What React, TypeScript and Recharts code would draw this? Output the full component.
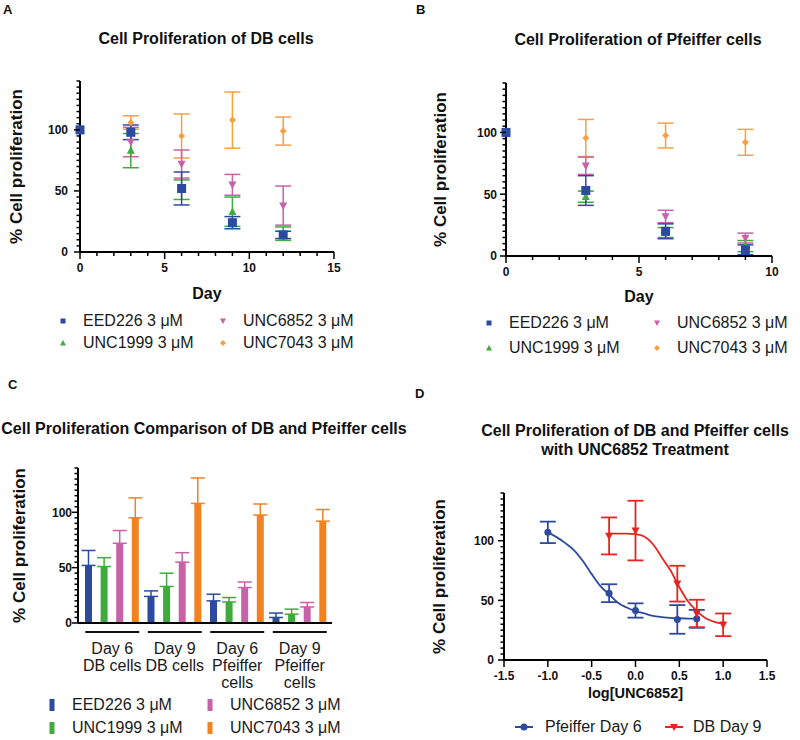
import React from 'react';
import {
  ScatterChart,
  Scatter,
  BarChart,
  Bar,
  ComposedChart,
  Line,
  XAxis,
  YAxis,
  ErrorBar,
  Label,
} from 'recharts';

const FONT = '"Liberation Sans", Arial, Helvetica, sans-serif';

const BLUE = '#2d4b9e';
const GREEN = '#3fab3c';
const PINK = '#c862a8';
const ORANGE = '#f7a043';
const ORANGE_BAR = '#f28120';
const RED = '#e52521';

const drugNames = ['EED226 3 μM', 'UNC1999 3 μM', 'UNC6852 3 μM', 'UNC7043 3 μM'];

// A: DB cells
const dbDays = [0, 3, 6, 9, 12];
const dbEED226 = [100, 98, 52, 24, 14];
const dbEED226Err = [0, 6, 13.5, 5, 3];
const dbUNC1999 = [100, 83, 51, 33, 15];
const dbUNC1999Err = [0, 14, 8, 12, 5.5];
const dbUNC6852 = [100, 90, 72, 55, 38];
const dbUNC6852Err = [0, 12, 11.5, 8.5, 16];
const dbUNC7043 = [100, 106, 95, 108, 99];
const dbUNC7043Err = [0, 5.5, 18, 23, 11.5];

// B: Pfeiffer cells
const pfDays = [0, 3, 6, 9];
const pfEED226 = [100, 53, 20, 5];
const pfEED226Err = [0, 12, 6, 4];
const pfUNC1999 = [100, 48, 19, 8];
const pfUNC1999Err = [0, 4.5, 4, 4.5];
const pfUNC6852 = [100, 73, 32, 14.5];
const pfUNC6852Err = [0, 7, 5, 4];
const pfUNC7043 = [100, 95.5, 97.5, 92];
const pfUNC7043Err = [0, 15, 10, 10.5];

// C: groups (day 6 / day 9 of each line)
const groupLabels = [
  ['Day 6', 'DB cells'],
  ['Day 9', 'DB cells'],
  ['Day 6', 'Pfeiffer', 'cells'],
  ['Day 9', 'Pfeiffer', 'cells'],
];

// D: dose response, log[UNC6852]
const pfConc = [-1, -0.301, 0, 0.477, 0.699];
const pfDay6 = [107, 56, 41.5, 34, 34.5];
const pfDay6Err = [9, 7.5, 6, 12, 7.5];
const dbConc = [-0.301, 0, 0.477, 0.699, 1];
const dbDay9 = [104, 108.5, 64, 39, 29.5];
const dbDay9Err = [15.5, 25, 15, 11.5, 9.5];
// fitted curves
const pfFitX = [-1, -0.9, -0.8, -0.7, -0.6, -0.5, -0.4, -0.3, -0.2, -0.1, 0, 0.1, 0.2, 0.3, 0.4, 0.5, 0.6, 0.7];
const pfFitY = [107, 103, 98, 92, 83, 72, 62, 55, 48, 44, 41, 39, 37, 36, 35.3, 35, 34.7, 34.5];
const dbFitX = [-0.3, -0.2, -0.1, 0, 0.1, 0.2, 0.3, 0.4, 0.5, 0.6, 0.7, 0.8, 0.9, 1];
const dbFitY = [106, 106, 106, 105.5, 103.5, 97, 86, 75, 61, 49, 41, 35, 32, 30.5];

// tick values
const yTicks = [0, 5, 10, 15, 20, 25, 30, 35, 40, 45, 50, 55, 60, 65, 70, 75, 80, 85, 90, 95, 100, 105, 110, 115, 120, 125, 130, 135, 140];
const dbDayTicks = [0, 1, 2, 3, 4, 5, 6, 7, 8, 9, 10, 11, 12, 13, 14, 15];
const pfDayTicks = [0, 1, 2, 3, 4, 5, 6, 7, 8, 9, 10];
const logTicks = [-1.5, -1, -0.5, 0, 0.5, 1, 1.5];

const toPoints = (days: number[], vals: number[], errs: number[]) =>
  days.map((d, i) => ({ day: d, value: vals[i], err: errs[i] }));

const toXY = (xs: number[], ys: number[], errs?: number[]) =>
  xs.map((x, i) => ({ x, y: ys[i], err: errs ? errs[i] : 0 }));

const cData = [
  [2, dbEED226, dbEED226Err, dbUNC1999, dbUNC1999Err, dbUNC6852, dbUNC6852Err, dbUNC7043, dbUNC7043Err],
  [3, dbEED226, dbEED226Err, dbUNC1999, dbUNC1999Err, dbUNC6852, dbUNC6852Err, dbUNC7043, dbUNC7043Err],
  [2, pfEED226, pfEED226Err, pfUNC1999, pfUNC1999Err, pfUNC6852, pfUNC6852Err, pfUNC7043, pfUNC7043Err],
  [3, pfEED226, pfEED226Err, pfUNC1999, pfUNC1999Err, pfUNC6852, pfUNC6852Err, pfUNC7043, pfUNC7043Err],
].map((row: any, g) => {
  const i = row[0];
  return {
    group: String(g),
    eed: row[1][i], eedErr: [0, row[2][i]],
    u1999: row[3][i], u1999Err: [0, row[4][i]],
    u6852: row[5][i], u6852Err: [0, row[6][i]],
    u7043: row[7][i], u7043Err: [0, row[8][i]],
  };
});

function marker(kind: string, color: string, s: number) {
  return (props: any) => {
    const { cx, cy } = props;
    if (cx == null || cy == null) return <g />;
    const h = s / 2;
    if (kind === 'square') return <rect x={cx - h} y={cy - h} width={s} height={s} fill={color} />;
    if (kind === 'tri')
      return <polygon points={`${cx},${cy - h * 1.1} ${cx - h},${cy + h * 0.8} ${cx + h},${cy + h * 0.8}`} fill={color} />;
    if (kind === 'invtri')
      return <polygon points={`${cx},${cy + h * 1.1} ${cx - h},${cy - h * 0.8} ${cx + h},${cy - h * 0.8}`} fill={color} />;
    if (kind === 'diamond')
      return <polygon points={`${cx},${cy - h} ${cx + h},${cy} ${cx},${cy + h} ${cx - h},${cy}`} fill={color} />;
    return <circle cx={cx} cy={cy} r={h} fill={color} />;
  };
}

function yTick(gap: number) {
  return (props: any) => {
    const { x, y, payload } = props;
    const major = payload.value % 50 === 0;
    return (
      <g>
        <line x1={x - (major ? 6 : 3.5)} x2={x} y1={y} y2={y} stroke="#000" strokeWidth={1.5} />
        {major && (
          <text x={x - gap} y={y} dy="0.36em" textAnchor="end" fontSize={12} fontWeight="bold" fontFamily={FONT} fill="#111">
            {payload.value}
          </text>
        )}
      </g>
    );
  };
}

function xTick(majorEvery: number, fmt: (v: number) => string) {
  return (props: any) => {
    const { x, y, payload } = props;
    const v = payload.value;
    const major = Math.abs(v / majorEvery - Math.round(v / majorEvery)) < 1e-6;
    return (
      <g>
        <line x1={x} x2={x} y1={y} y2={y + (major ? 7 : 4)} stroke="#000" strokeWidth={1.5} />
        {major && (
          <text x={x} y={y + 11} dy="0.71em" textAnchor="middle" fontSize={12} fontWeight="bold" fontFamily={FONT} fill="#111">
            {fmt(v)}
          </text>
        )}
      </g>
    );
  };
}

const groupTick = (props: any) => {
  const { x, y, payload } = props;
  const lines = groupLabels[Number(payload.value)];
  return (
    <g>
      <line x1={x - 27} x2={x + 27} y1={y + 9} y2={y + 9} stroke="#111" strokeWidth={2} />
      {lines.map((t, i) => (
        <text key={i} x={x} y={y + 31 + i * 17} textAnchor="middle" fontSize={16} fontFamily={FONT} fill="#1a1a1a">
          {t}
        </text>
      ))}
    </g>
  );
};

const axisLine = { stroke: '#000', strokeWidth: 2 };
const yLabelStyle = { textAnchor: 'middle', fontWeight: 'bold', fontSize: 17, fontFamily: FONT, fill: '#111' } as any;
const xLabelStyle = { textAnchor: 'middle', fontWeight: 'bold', fontSize: 16, fontFamily: FONT, fill: '#111' } as any;

const abs = (left: number, top: number): React.CSSProperties => ({ position: 'absolute', left, top });

function Title({ cx, cy, text }: { cx: number; cy: number; text: string }) {
  return (
    <div
      style={{
        position: 'absolute', left: cx - 250, top: cy - 10, width: 500, height: 20, lineHeight: '20px',
        textAlign: 'center', fontFamily: FONT, fontWeight: 'bold', fontSize: 16, color: '#111', whiteSpace: 'nowrap',
      }}
    >
      {text}
    </div>
  );
}

function Letter({ x, y, text }: { x: number; y: number; text: string }) {
  return (
    <div style={{ position: 'absolute', left: x, top: y, fontFamily: FONT, fontWeight: 'bold', fontSize: 13, lineHeight: '13px', color: '#111' }}>
      {text}
    </div>
  );
}

function LegendEntry({ mx, tx, cy, icon, label }: { mx: number; tx: number; cy: number; icon: React.ReactNode; label: string }) {
  return (
    <>
      <svg style={{ position: 'absolute', left: mx - 12, top: cy - 10 }} width={24} height={20}>
        {icon}
      </svg>
      <div
        style={{
          position: 'absolute', left: tx, top: cy - 10, height: 20, lineHeight: '20px',
          fontFamily: FONT, fontSize: 16, color: '#1a1a1a', whiteSpace: 'nowrap',
        }}
      >
        {label}
      </div>
    </>
  );
}

const icons = [
  <rect x={9.5} y={7.5} width={5} height={5} fill={BLUE} />,
  <polygon points="12,7 9,12.5 15,12.5" fill={GREEN} />,
  <polygon points="12,13 9,7.5 15,7.5" fill={PINK} />,
  <polygon points="12,7 15,10 12,13 9,10" fill={ORANGE} />,
];
const barColors = [BLUE, GREEN, PINK, ORANGE_BAR];

function ScatterLegend({ c1m, c1t, c2m, c2t, y1, y2 }: any) {
  return (
    <>
      <LegendEntry mx={c1m} tx={c1t} cy={y1} icon={icons[0]} label={drugNames[0]} />
      <LegendEntry mx={c2m} tx={c2t} cy={y1} icon={icons[2]} label={drugNames[2]} />
      <LegendEntry mx={c1m} tx={c1t} cy={y2} icon={icons[1]} label={drugNames[1]} />
      <LegendEntry mx={c2m} tx={c2t} cy={y2} icon={icons[3]} label={drugNames[3]} />
    </>
  );
}

export default function App() {
  const dbSeries = [
    { pts: toPoints(dbDays, dbUNC7043, dbUNC7043Err), color: ORANGE, kind: 'diamond', size: 7 },
    { pts: toPoints(dbDays, dbUNC6852, dbUNC6852Err), color: PINK, kind: 'invtri', size: 8 },
    { pts: toPoints(dbDays, dbUNC1999, dbUNC1999Err), color: GREEN, kind: 'tri', size: 8 },
    { pts: toPoints(dbDays, dbEED226, dbEED226Err), color: BLUE, kind: 'square', size: 9 },
  ];
  const pfSeries = [
    { pts: toPoints(pfDays, pfUNC7043, pfUNC7043Err), color: ORANGE, kind: 'diamond', size: 7 },
    { pts: toPoints(pfDays, pfUNC6852, pfUNC6852Err), color: PINK, kind: 'invtri', size: 8 },
    { pts: toPoints(pfDays, pfUNC1999, pfUNC1999Err), color: GREEN, kind: 'tri', size: 8 },
    { pts: toPoints(pfDays, pfEED226, pfEED226Err), color: BLUE, kind: 'square', size: 9 },
  ];

  return (
    <div style={{ position: 'absolute', left: 0, top: 0, width: 800, height: 740, background: '#fff', overflow: 'hidden' }}>
      {/* Panel A */}
      <Letter x={3} y={3} text="A" />
      <Title cx={206} cy={39} text="Cell Proliferation of DB cells" />
      <div style={abs(0, 0)}>
        <ScatterChart width={400} height={310} margin={{ top: 81, right: 66, left: 10, bottom: 8 }}>
          <XAxis type="number" dataKey="day" domain={[0, 15]} ticks={dbDayTicks} interval={0} height={50}
            tick={xTick(5, (v) => String(v))} tickLine={false} tickSize={0} tickMargin={0} axisLine={axisLine}>
            <Label value="Day" position="insideBottom" offset={3} style={xLabelStyle} />
          </XAxis>
          <YAxis type="number" domain={[0, 140]} ticks={yTicks} interval={0} width={70}
            tick={yTick(12)} tickLine={false} tickSize={0} tickMargin={0} axisLine={axisLine}>
            <Label value="% Cell proliferation" angle={-90} position="insideLeft" offset={6} style={yLabelStyle} />
          </YAxis>
          {dbSeries.map((s, i) => (
            <Scatter key={i} data={s.pts} dataKey="value" fill={s.color} shape={marker(s.kind, s.color, s.size)} isAnimationActive={false}>
              <ErrorBar dataKey="err" direction="y" width={8} stroke={s.color} strokeWidth={1.5} />
            </Scatter>
          ))}
        </ScatterChart>
      </div>
      <ScatterLegend c1m={63} c1t={83} c2m={223} c2t={243} y1={321} y2={343} />

      {/* Panel B */}
      <Letter x={416} y={3} text="B" />
      <Title cx={638} cy={40} text="Cell Proliferation of Pfeiffer cells" />
      <div style={abs(400, 0)}>
        <ScatterChart width={400} height={310} margin={{ top: 83, right: 28, left: 36, bottom: 4 }}>
          <XAxis type="number" dataKey="day" domain={[0, 10]} ticks={pfDayTicks} interval={0} height={50}
            tick={xTick(5, (v) => String(v))} tickLine={false} tickSize={0} tickMargin={0} axisLine={axisLine}>
            <Label value="Day" position="insideBottom" offset={4} style={xLabelStyle} />
          </XAxis>
          <YAxis type="number" domain={[0, 140]} ticks={yTicks} interval={0} width={70}
            tick={yTick(9)} tickLine={false} tickSize={0} tickMargin={0} axisLine={axisLine}>
            <Label value="% Cell proliferation" angle={-90} position="insideLeft" offset={4} style={yLabelStyle} />
          </YAxis>
          {pfSeries.map((s, i) => (
            <Scatter key={i} data={s.pts} dataKey="value" fill={s.color} shape={marker(s.kind, s.color, s.size)} isAnimationActive={false}>
              <ErrorBar dataKey="err" direction="y" width={8} stroke={s.color} strokeWidth={1.5} />
            </Scatter>
          ))}
        </ScatterChart>
      </div>
      <ScatterLegend c1m={489} c1t={509} c2m={657} c2t={677} y1={323} y2={348} />

      {/* Panel C */}
      <Letter x={8} y={378} text="C" />
      <Title cx={204} cy={429} text="Cell Proliferation Comparison of DB and Pfeiffer cells" />
      <div style={abs(0, 370)}>
        <BarChart width={400} height={330} data={cData} margin={{ top: 98, right: 68, left: 8, bottom: 7 }} barSize={7} barGap={8.6}>
          <XAxis dataKey="group" height={70} interval={0} tick={groupTick} tickLine={false} tickSize={0} tickMargin={0}
            axisLine={axisLine} padding={{ left: 3, right: 1 }} />
          <YAxis type="number" domain={[0, 140]} ticks={yTicks} interval={0} width={70}
            tick={yTick(6)} tickLine={false} tickSize={0} tickMargin={0} axisLine={axisLine}>
            <Label value="% Cell proliferation" angle={-90} position="insideLeft" offset={11} style={yLabelStyle} />
          </YAxis>
          <Bar dataKey="eed" fill={BLUE} isAnimationActive={false}>
            <ErrorBar dataKey="eedErr" direction="y" width={7} stroke={BLUE} strokeWidth={1.5} />
          </Bar>
          <Bar dataKey="u1999" fill={GREEN} isAnimationActive={false}>
            <ErrorBar dataKey="u1999Err" direction="y" width={7} stroke={GREEN} strokeWidth={1.5} />
          </Bar>
          <Bar dataKey="u6852" fill={PINK} isAnimationActive={false}>
            <ErrorBar dataKey="u6852Err" direction="y" width={7} stroke={PINK} strokeWidth={1.5} />
          </Bar>
          <Bar dataKey="u7043" fill={ORANGE_BAR} isAnimationActive={false}>
            <ErrorBar dataKey="u7043Err" direction="y" width={7} stroke={ORANGE_BAR} strokeWidth={1.5} />
          </Bar>
        </BarChart>
      </div>
      <LegendEntry mx={52} tx={72} cy={705} icon={<rect x={9.5} y={4} width={5} height={12} fill={barColors[0]} />} label={drugNames[0]} />
      <LegendEntry mx={52} tx={72} cy={728} icon={<rect x={9.5} y={4} width={5} height={12} fill={barColors[1]} />} label={drugNames[1]} />
      <LegendEntry mx={210} tx={230} cy={705} icon={<rect x={9.5} y={4} width={5} height={12} fill={barColors[2]} />} label={drugNames[2]} />
      <LegendEntry mx={210} tx={230} cy={728} icon={<rect x={9.5} y={4} width={5} height={12} fill={barColors[3]} />} label={drugNames[3]} />

      {/* Panel D */}
      <Letter x={415} y={387} text="D" />
      <Title cx={635} cy={431} text="Cell Proliferation of DB and Pfeiffer cells" />
      <Title cx={635} cy={450} text="with UNC6852 Treatment" />
      <div style={abs(400, 370)}>
        <ComposedChart width={400} height={340} margin={{ top: 123, right: 33, left: 34, bottom: 5 }}>
          <XAxis type="number" dataKey="x" domain={[-1.5, 1.5]} ticks={logTicks} interval={0} height={45}
            tick={xTick(0.5, (v) => v.toFixed(1))} tickLine={false} tickSize={0} tickMargin={0} axisLine={axisLine}>
            <Label value="log[UNC6852]" position="insideBottom" offset={7} style={{ ...xLabelStyle, fontSize: 14.5 }} />
          </XAxis>
          <YAxis type="number" domain={[0, 140]} ticks={yTicks} interval={0} width={70}
            tick={yTick(10)} tickLine={false} tickSize={0} tickMargin={0} axisLine={axisLine}>
            <Label value="% Cell proliferation" angle={-90} position="insideLeft" offset={5} style={yLabelStyle} />
          </YAxis>
          <Line data={toXY(pfFitX, pfFitY)} dataKey="y" type="monotone" dot={false} stroke={BLUE} strokeWidth={1.8} isAnimationActive={false} />
          <Line data={toXY(dbFitX, dbFitY)} dataKey="y" type="monotone" dot={false} stroke={RED} strokeWidth={1.8} isAnimationActive={false} />
          <Scatter data={toXY(pfConc, pfDay6, pfDay6Err)} dataKey="y" fill={BLUE} shape={marker('circle', BLUE, 7)} isAnimationActive={false}>
            <ErrorBar dataKey="err" direction="y" width={8} stroke={BLUE} strokeWidth={1.8} />
          </Scatter>
          <Scatter data={toXY(dbConc, dbDay9, dbDay9Err)} dataKey="y" fill={RED} shape={marker('invtri', RED, 8)} isAnimationActive={false}>
            <ErrorBar dataKey="err" direction="y" width={8} stroke={RED} strokeWidth={1.8} />
          </Scatter>
        </ComposedChart>
      </div>
      <LegendEntry mx={524} tx={545} cy={727}
        icon={<g><line x1={3} x2={21} y1={10} y2={10} stroke={BLUE} strokeWidth={2} /><circle cx={12} cy={10} r={3.5} fill={BLUE} /></g>}
        label="Pfeiffer Day 6" />
      <LegendEntry mx={674} tx={693} cy={727}
        icon={<g><line x1={3} x2={21} y1={10} y2={10} stroke={RED} strokeWidth={2} /><polygon points="12,14 8,7 16,7" fill={RED} /></g>}
        label="DB Day 9" />
    </div>
  );
}
